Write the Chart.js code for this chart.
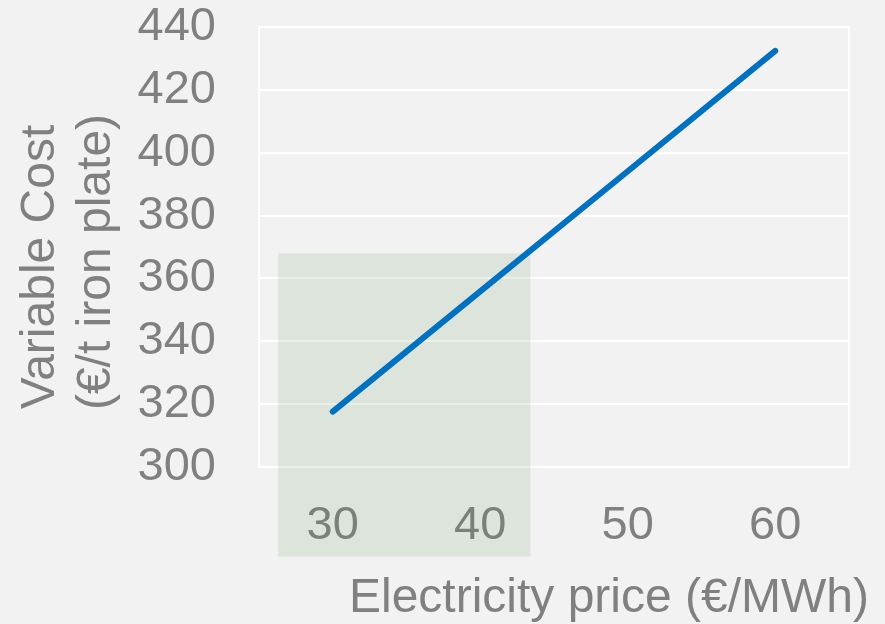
<!DOCTYPE html>
<html>
<head>
<meta charset="utf-8">
<script src="https://cdn.jsdelivr.net/npm/chart.js@4"></script>
<style>
  html, body { margin: 0; padding: 0; background: #f2f2f2; }
  canvas { display: block; }
</style>
</head>
<body>
<canvas id="costChart" width="885" height="624"></canvas>
<script>
// data
const electricityPrice = [30, 40, 50, 60];          // €/MWh
const variableCost = [317.6, 355.9, 394.1, 432.4];  // €/t iron plate
const xTickValues = [30, 40, 50, 60];
const yAxisTitle = ['Variable Cost', '(€/t iron plate)'];
const xAxisTitle = 'Electricity price (€/MWh)';
// highlighted region (x from/to in €/MWh, y from/to in €/t)
const shadeX = [26.3, 43.4];
const shadeY = [271.5, 368];

const textGray = '#808080';
const fontFamily = 'Liberation Sans, Arial, sans-serif';
const font = { family: fontFamily, size: 47 };

const canvas = document.getElementById('costChart');

// plot border, shaded box and axis titles
const extras = {
    id: 'extras',
    beforeDatasetsDraw(chart) {
        const { ctx, chartArea, scales } = chart;
        ctx.save();
        ctx.strokeStyle = '#ffffff';
        ctx.lineWidth = 2;
        ctx.strokeRect(chartArea.left, chartArea.top, chartArea.right - chartArea.left, chartArea.bottom - chartArea.top);

        const x0 = scales.x.getPixelForValue(shadeX[0]);
        const x1 = scales.x.getPixelForValue(shadeX[1]);
        const y0 = scales.y.getPixelForValue(shadeY[1]);
        const y1 = scales.y.getPixelForValue(shadeY[0]);
        ctx.fillStyle = 'rgba(84, 140, 70, 0.13)';
        ctx.fillRect(x0, y0, x1 - x0, y1 - y0);

        ctx.fillStyle = textGray;
        ctx.font = '48px ' + fontFamily;
        ctx.textBaseline = 'alphabetic';
        ctx.textAlign = 'right';
        ctx.fillText(xAxisTitle, 869, 612);

        ctx.textAlign = 'center';
        yAxisTitle.forEach((line, i) => {
            ctx.save();
            ctx.translate(54 + i * 56, 267 - i * 5);
            ctx.rotate(-Math.PI / 2);
            ctx.fillText(line, 0, 0);
            ctx.restore();
        });
        ctx.restore();
    }
};

new Chart(canvas, {
    type: 'line',
    data: {
        datasets: [{
            data: electricityPrice.map((p, i) => ({ x: p, y: variableCost[i] })),
            borderColor: '#0070c0',
            borderWidth: 6,
            borderCapStyle: 'round',
            pointRadius: 0,
            tension: 0
        }]
    },
    options: {
        responsive: false,
        animation: false,
        layout: { padding: { top: 27, right: 36, left: 0, bottom: 0 } },
        plugins: {
            legend: { display: false },
            tooltip: { enabled: false }
        },
        scales: {
            x: {
                type: 'linear',
                min: 25,
                max: 65,
                afterBuildTicks: s => { s.ticks = xTickValues.map(v => ({ value: v })); },
                afterFit: s => { s.height = 157; s.paddingLeft = 0; s.paddingRight = 0; },
                grid: { display: false, drawTicks: false },
                border: { display: false },
                ticks: { color: textGray, font: font, padding: 31, autoSkip: false }
            },
            y: {
                min: 300,
                max: 440,
                afterFit: s => { s.width = 259; s.paddingTop = 0; s.paddingBottom = 0; },
                grid: { color: '#ffffff', lineWidth: 2, drawTicks: false },
                border: { display: false },
                ticks: { stepSize: 20, color: textGray, font: font, padding: 43, autoSkip: false }
            }
        }
    },
    plugins: [extras]
});
</script>
</body>
</html>
